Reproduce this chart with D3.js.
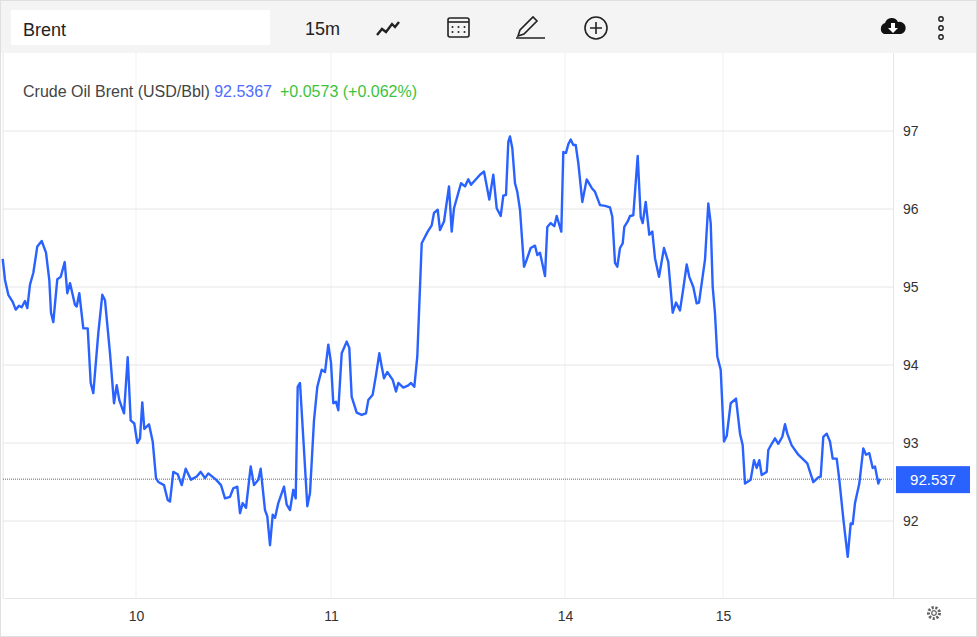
<![CDATA[<!DOCTYPE html>
<html>
<head>
<meta charset="utf-8">
<script src="https://cdn.jsdelivr.net/npm/d3@7"></script>
<style>
  body { margin: 0; background: #fff; font-family: "Liberation Sans", Arial, sans-serif; }
  svg { display: block; }
</style>
</head>
<body>
<svg id="chart" width="977" height="637"></svg>
<script>
// time in 5-minute units from the start of the window, and Brent price
var times = [2.7,5,8.3,12.7,15.7,19,21.7,25,27.3,30,33.3,37.3,41.7,46,49.3,51,53.3,57.3,60.7,64.7,67.3,70,75,76.7,79.3,83.3,87.7,90.7,93.3,98.3,102.3,105,110,114,116.7,119.3,124,127.7,130.7,134.3,137.3,140,142.3,144.3,149,152.7,156,158.3,164,167.7,170,173.3,177.7,181.7,185.7,191,196.7,200.7,205,208.3,216,221,225,230,233.3,237.3,240,242.7,246,250.7,254,258.3,260.7,265,267.3,270,272.7,275,278.3,284,286.7,290,293.3,295.7,297.7,300,304,307.3,310,314,317.3,321.7,325,328.3,331,333.3,336,338.3,341.7,346.7,349.3,351.7,356.7,361.7,366,368.3,372.7,376,379.3,381.7,384,387.3,392.7,396,398.3,403.3,408.3,411,414.3,417.3,421.7,427.7,431.7,434,437.7,440,444,449,451.7,454,461,465,468.3,471,480,484,489.3,493.3,496.7,500.7,503.3,506,508.3,510,512.3,515,517.3,520,524,526.7,530.7,535,537.3,540,545,547.3,550.7,554.3,556.7,561.3,563.3,566,568.3,570.7,573.3,575.7,578.3,582.3,586.7,591.7,595,600,605,610,612.3,615,617.3,620,622.7,624.3,627.7,630,633.3,637.7,640.7,642.7,645.7,649.3,652.3,655,659,664,668.3,672.7,676,680,683.3,686.7,689.3,693.3,696.7,699,705,708.3,710.7,712.7,715,717.3,720.7,724,726.7,730.7,736,740,742.7,745,750.7,754,756.7,759.3,761.7,766.7,768.3,771.7,775,778.3,782.3,785,787.3,791.7,798.3,804,807.3,813.3,818.3,820.7,823.3,826.7,830,832.7,836.7,839.3,843.3,847.7,850.7,852.7,855,859.3,863.3,866,869.3,872.7,875,878.3,880];
var prices = [95.36,95.09,94.90,94.81,94.71,94.76,94.74,94.82,94.73,95.03,95.18,95.52,95.59,95.44,95.09,94.67,94.55,95.10,95.13,95.32,94.92,95.05,94.77,94.75,94.92,94.47,94.47,93.77,93.64,94.41,94.90,94.83,94.15,93.51,93.74,93.55,93.38,94.10,93.29,93.25,93.00,93.06,93.52,93.18,93.24,93.02,92.55,92.50,92.46,92.27,92.25,92.63,92.60,92.46,92.67,92.53,92.57,92.63,92.55,92.61,92.53,92.46,92.29,92.31,92.42,92.44,92.10,92.23,92.17,92.70,92.46,92.53,92.67,92.14,92.06,91.69,92.08,92.04,92.23,92.44,92.21,92.14,92.40,92.29,93.72,93.77,92.91,92.19,92.36,93.29,93.72,93.94,93.91,94.26,94.03,93.51,93.53,93.42,94.15,94.30,94.22,93.59,93.39,93.36,93.38,93.55,93.62,93.87,94.15,93.98,93.83,93.91,93.81,93.66,93.77,93.71,93.74,93.77,93.72,94.11,95.56,95.71,95.79,95.95,95.99,95.73,95.84,96.29,95.71,96.01,96.33,96.29,96.38,96.31,96.44,96.48,96.12,96.44,96.01,95.91,96.17,96.18,96.86,96.93,96.78,96.33,96.22,95.99,95.26,95.35,95.50,95.53,95.41,95.44,95.14,95.77,95.82,95.78,95.91,95.71,96.73,96.72,96.83,96.89,96.82,96.82,96.59,96.09,96.38,96.27,96.22,96.05,96.04,96.02,95.90,95.31,95.26,95.50,95.56,95.77,95.84,95.91,95.92,96.68,95.90,95.82,96.09,95.67,95.71,95.37,95.13,95.50,95.32,94.67,94.80,94.70,94.98,95.29,95.13,95.00,94.79,94.80,95.35,96.07,95.82,95.00,94.66,94.11,93.94,93.02,93.09,93.51,93.57,93.12,92.97,92.48,92.53,92.78,92.68,92.78,92.59,92.63,92.91,92.99,93.06,92.99,93.08,93.24,93.12,92.97,92.85,92.78,92.74,92.50,92.56,92.57,93.08,93.12,93.02,92.80,92.80,92.53,92.03,91.54,91.97,91.96,92.23,92.48,92.93,92.85,92.87,92.68,92.70,92.48,92.54];
var dayTicks = [136, 331, 565, 723];
var dayLabels = ["10", "11", "14", "15"];
var priceTicks = [92, 93, 94, 95, 96, 97];
var lastPrice = 92.5367;

var svg = d3.select("#chart");
var plotL = 3, plotR = 893, plotT = 53, plotB = 598;
var font = "'Liberation Sans', Arial, sans-serif";

var x = d3.scaleLinear().domain([plotL, plotR]).range([plotL, plotR]);
var y = d3.scaleLinear().domain([91.013, 98]).range([plotB, plotT]);

// outer frame + toolbar
svg.append("rect").attr("x", 0.5).attr("y", 0.5).attr("width", 976).attr("height", 636)
  .attr("fill", "#fff").attr("stroke", "#e0e0e0");
svg.append("rect").attr("x", 1).attr("y", 1).attr("width", 975).attr("height", 52).attr("fill", "#f4f4f4");
svg.append("rect").attr("x", 11).attr("y", 10).attr("width", 259).attr("height", 35).attr("fill", "#fff");
svg.append("text").attr("x", 23).attr("y", 36).attr("font-size", 18).attr("fill", "#222").text("Brent");
svg.append("text").attr("x", 305).attr("y", 35).attr("font-size", 18).attr("fill", "#222").text("15m");

var icons = svg.append("g").attr("fill", "none").attr("stroke", "#222").attr("stroke-width", 1.6);
icons.append("path").attr("d", "M377,35 L382,29 L386,32 L392,24 L395,27 L399,22").attr("stroke-width", 2.4);
icons.append("rect").attr("x", 448).attr("y", 18).attr("width", 21).attr("height", 19).attr("rx", 2);
icons.append("line").attr("x1", 448).attr("x2", 469).attr("y1", 22).attr("y2", 22);
[452, 458, 464].forEach(function (cx) {
  [27, 32].forEach(function (cy) {
    icons.append("circle").attr("cx", cx + 0.5).attr("cy", cy).attr("r", 1).attr("fill", "#222").attr("stroke", "none");
  });
});
icons.append("path").attr("d", "M518,36 L520,30 L533,17 L537,21 L524,34 Z M516,38 L545,38");
icons.append("circle").attr("cx", 596).attr("cy", 28).attr("r", 11);
icons.append("path").attr("d", "M596,22 V34 M590,28 H602");
svg.append("path").attr("fill", "#111")
  .attr("d", "M884,34 a6,6 0 0 1 1,-11 a7,7 0 0 1 13,-1 a5,5 0 0 1 3,12 Z");
svg.append("path").attr("fill", "#fff").attr("d", "M891,23 h4 v5 h3 l-5,5 l-5,-5 h3 Z");
[19, 28, 37].forEach(function (cy) {
  icons.append("circle").attr("cx", 941).attr("cy", cy).attr("r", 2.2).attr("stroke-width", 1.4);
});

// grid
svg.append("g").selectAll("line").data(dayTicks).join("line")
  .attr("x1", function (d) { return x(d); }).attr("x2", function (d) { return x(d); })
  .attr("y1", plotT).attr("y2", plotB).attr("stroke", "#eef1f4");
svg.append("g").selectAll("line").data(priceTicks).join("line")
  .attr("x1", plotL).attr("x2", plotR)
  .attr("y1", function (d) { return y(d); }).attr("y2", function (d) { return y(d); })
  .attr("stroke", "#e6e6e6");
svg.append("line").attr("x1", plotR + 0.5).attr("x2", plotR + 0.5).attr("y1", plotT).attr("y2", plotB).attr("stroke", "#e6e6e6");
svg.append("line").attr("x1", plotL).attr("x2", 976).attr("y1", plotB + 0.5).attr("y2", plotB + 0.5).attr("stroke", "#e6e6e6");
svg.append("line").attr("x1", plotL).attr("x2", plotL).attr("y1", plotT).attr("y2", plotB).attr("stroke", "#e6e6e6");

// axes
var yAxis = d3.axisRight(y).tickValues(priceTicks).tickFormat(d3.format("d")).tickSize(0).tickPadding(10);
svg.append("g").attr("transform", "translate(" + plotR + ",0)").call(yAxis)
  .call(function (g) { g.select(".domain").remove(); })
  .selectAll("text").attr("font-size", 14).attr("fill", "#333").attr("font-family", font);
var xAxis = d3.axisBottom(x).tickValues(dayTicks).tickFormat(function (d, i) { return dayLabels[i]; }).tickSize(0).tickPadding(13);
svg.append("g").attr("transform", "translate(0," + plotB + ")").call(xAxis)
  .call(function (g) { g.select(".domain").remove(); })
  .selectAll("text").attr("font-size", 14).attr("fill", "#333").attr("font-family", font);

// last price line + label
svg.append("line").attr("x1", plotL).attr("x2", plotR).attr("y1", y(lastPrice)).attr("y2", y(lastPrice))
  .attr("stroke", "#2962ff").attr("stroke-dasharray", "1,1").attr("stroke-width", 1);
svg.append("rect").attr("x", 896).attr("y", y(lastPrice) - 13).attr("width", 74).attr("height", 27).attr("fill", "#2962ff");
svg.append("text").attr("x", 933).attr("y", y(lastPrice) + 5.5).attr("text-anchor", "middle")
  .attr("font-size", 15).attr("fill", "#fff").text(d3.format(".3f")(lastPrice));

// series
var pts = times.map(function (t, i) { return [t, prices[i]]; });
svg.append("path").datum(pts)
  .attr("fill", "none").attr("stroke", "#2962ff").attr("stroke-width", 2.4).attr("stroke-linejoin", "round")
  .attr("d", d3.line().x(function (d) { return x(d[0]); }).y(function (d) { return y(d[1]); }));

// legend
var leg = svg.append("text").attr("x", 23).attr("y", 97).attr("font-size", 16).attr("font-family", font);
leg.append("tspan").attr("fill", "#444").text("Crude Oil Brent (USD/Bbl) ");
leg.append("tspan").attr("fill", "#4f6cff").text("92.5367");
leg.append("tspan").attr("fill", "#3cc33c").attr("dx", 8).text("+0.0573 (+0.062%)");

// gear
var gear = svg.append("g").attr("transform", "translate(934,613)").attr("fill", "none").attr("stroke", "#666").attr("stroke-width", 1.3);
gear.append("circle").attr("r", 5.5).attr("stroke-dasharray", "2.2,1.6").attr("stroke-width", 3);
gear.append("circle").attr("r", 2.3);
</script>
</body>
</html>
]]>
